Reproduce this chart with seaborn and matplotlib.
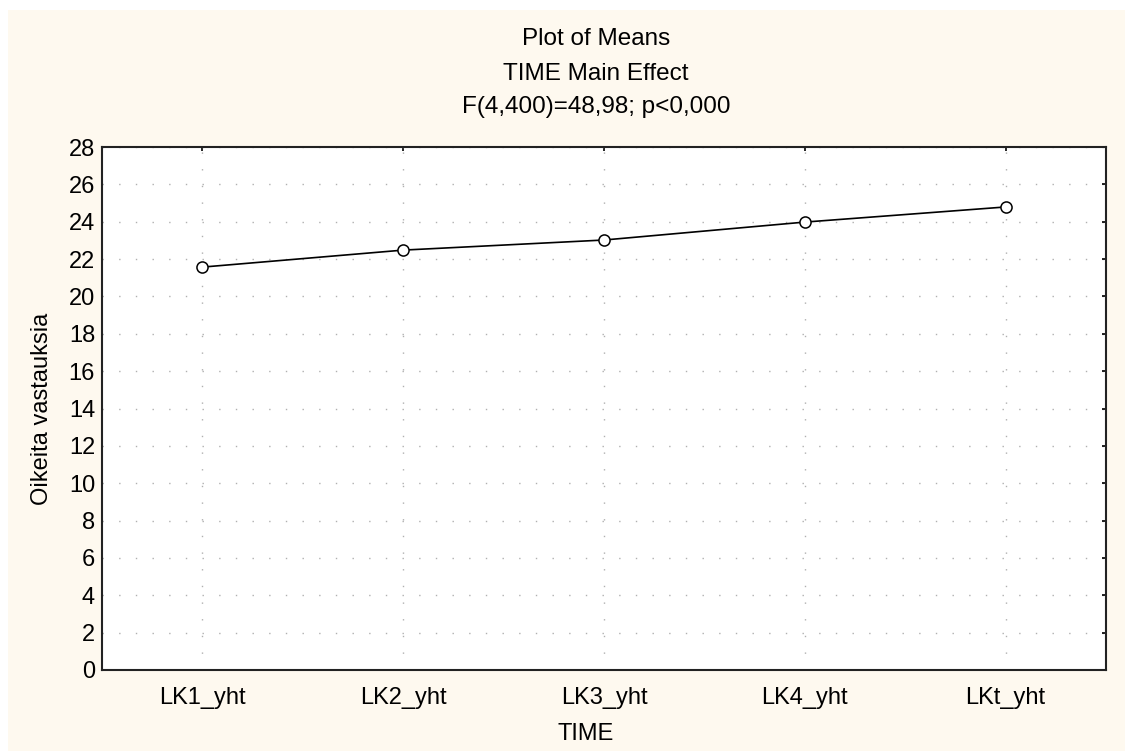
import matplotlib
matplotlib.use("Agg")
import matplotlib.pyplot as plt
import seaborn as sns
import pandas as pd
from matplotlib.patches import Rectangle

# data
time_points = ["LK1_yht", "LK2_yht", "LK3_yht", "LK4_yht", "LKt_yht"]
means = [21.57, 22.48, 23.02, 23.98, 24.79]

df = pd.DataFrame({"TIME": time_points, "mean": means})

sns.set_style("white")
plt.rcParams['font.family'] = ['Liberation Sans', 'DejaVu Sans']
plt.rcParams['text.color'] = 'black'
plt.rcParams['axes.labelcolor'] = 'black'

cream = "#fef9ef"
fig = plt.figure(figsize=(11.25, 7.51), dpi=100, facecolor=cream)
# thin white margin at left and top, like the screenshot
fig.patches.append(Rectangle((0, 0), 8 / 1125, 1, transform=fig.transFigure,
                             facecolor="white", edgecolor="none", zorder=-10))
fig.patches.append(Rectangle((0, 1 - 10 / 751), 1, 10 / 751, transform=fig.transFigure,
                             facecolor="white", edgecolor="none", zorder=-10))

ax = fig.add_axes([102 / 1125, (751 - 670) / 751, (1106 - 102) / 1125, (670 - 147) / 751])
ax.set_facecolor("white")

sns.lineplot(data=df, x="TIME", y="mean", ax=ax, color="black", linewidth=1.2,
             marker="o", markersize=8, markerfacecolor="white",
             markeredgecolor="black", markeredgewidth=1.1, zorder=3)

ax.set_xlim(-0.5, len(time_points) - 0.5)
ax.set_ylim(0, 28)
ax.set_yticks(range(0, 29, 2))

# sparse dotted grid
ax.grid(True, color="#b0b0b0", linestyle=(0, (1, 11)), linewidth=1.0)
ax.tick_params(direction="in", length=3, width=1.2, top=True, right=True,
               labelsize=17, colors="black")
ax.tick_params(axis="x", pad=12)
ax.tick_params(axis="y", pad=5)
for s in ax.spines.values():
    s.set_color("#222222")
    s.set_linewidth(1.5)

ax.set_xlabel("")
ax.set_ylabel("Oikeita vastauksia", fontsize=17, labelpad=11)
fig.text(586 / 1125, 1 - 734 / 751, "TIME", ha="center", va="center", fontsize=17)

cx = 596 / 1125
fig.text(cx, 1 - 39 / 751, "Plot of Means", ha="center", va="center", fontsize=17.5)
fig.text(cx, 1 - 74 / 751, "TIME Main Effect", ha="center", va="center", fontsize=17.5)
fig.text(cx, 1 - 107 / 751, "F(4,400)=48,98; p<0,000", ha="center", va="center", fontsize=17.5)

plt.savefig("out.png", dpi=100, facecolor=cream)
